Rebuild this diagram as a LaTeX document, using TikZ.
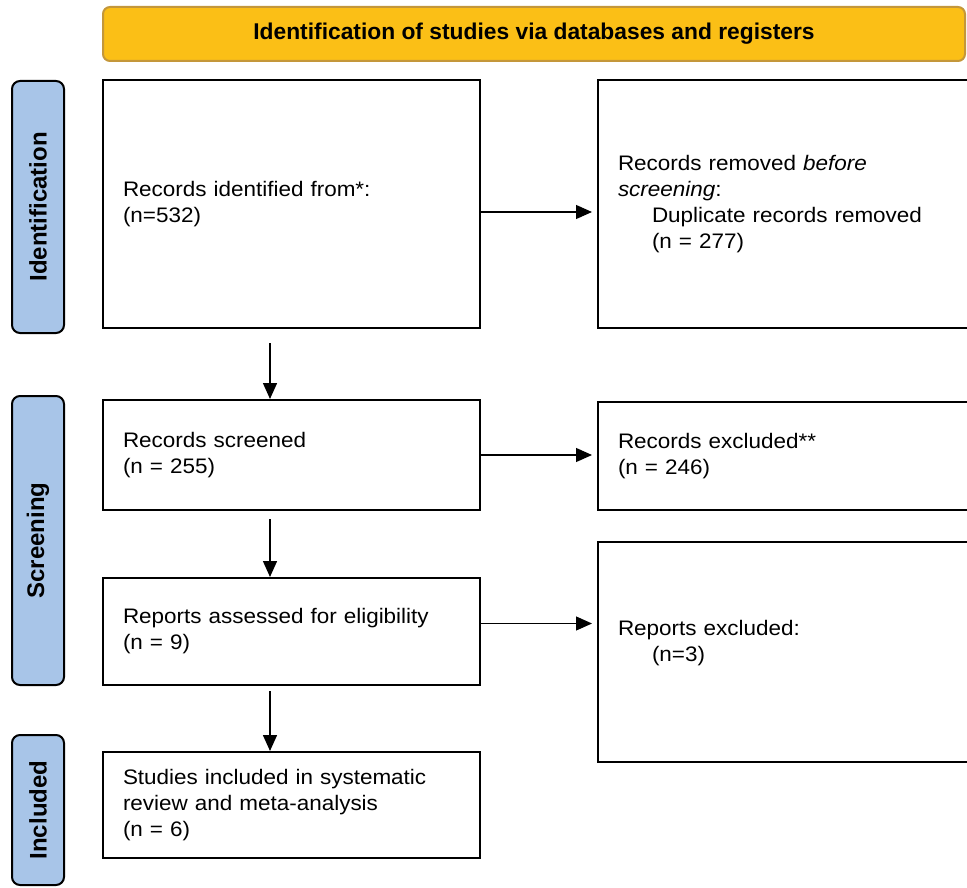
\documentclass[tikz,border=0pt]{standalone}
\usepackage{fontspec}
\setmainfont{Liberation Sans}[FakeStretch=1.07]
\newfontfamily\labfont{Liberation Sans}
\usetikzlibrary{arrows.meta}
\definecolor{gold}{HTML}{FBBF16}
\definecolor{goldline}{HTML}{C4973A}
\definecolor{phase}{HTML}{A8C5E8}
\begin{document}
\begin{tikzpicture}[x=1pt,y=-1pt,
  box/.style={draw=black, line width=2pt, inner xsep=20pt, inner ysep=0pt,
    align=left, font=\fontsize{21}{26}\selectfont},
  phaselab/.style={draw=black, line width=2pt, fill=phase, rounded corners=8pt,
    minimum height=52pt, rotate=90, inner sep=0pt,
    font=\labfont\bfseries\fontsize{24}{28}\selectfont},
  arr/.style={line width=1.5pt, -{Triangle[length=16pt,width=14pt]}},
  harr/.style={line width=1.2pt, -{Triangle[length=16pt,width=14pt]}, shorten >=5pt}]
\useasboundingbox (0,0) rectangle (967,888);
\clip (0,0) rectangle (967,888);
\node[draw=goldline, fill=gold, line width=2pt, rounded corners=7pt,
  minimum width=862pt, minimum height=54pt, inner sep=0pt,
  font=\labfont\bfseries\fontsize{22.8}{26}\selectfont] (banner) at (534,34)
  {Identification of studies via databases and registers};
\node[phaselab, minimum width=252pt] (idlab) at (38,207) {Identification};
\node[phaselab, minimum width=289pt] (scrlab) at (38,540.5) {Screening};
\node[phaselab, minimum width=150pt] (inclab) at (38,810) {Included};
\node[box, minimum width=377pt, minimum height=248pt, text width=337pt] (ident) at (291.5,204)
  {Records identified from*:\\(n=532)};
\node[box, minimum width=400pt, minimum height=248pt, text width=360pt] (removed) at (798,204)
  {Records removed \textit{before}\\\textit{screening}:\\\hspace*{34pt}Duplicate records removed\\\hspace*{34pt}(n = 277)};
\node[box, minimum width=377pt, minimum height=110pt, text width=337pt] (screened) at (291.5,455)
  {Records screened\\(n = 255)};
\node[box, minimum width=400pt, minimum height=108pt, text width=360pt] (excluded) at (798,456)
  {Records excluded**\\(n = 246)};
\node[box, minimum width=377pt, minimum height=107pt, text width=337pt] (assessed) at (291.5,631.5)
  {Reports assessed for eligibility\\(n = 9)};
\node[box, minimum width=400pt, minimum height=220pt, text width=360pt] (repexcl) at (798,652)
  {Reports excluded:\\\hspace*{34pt}(n=3)\\[-4pt]\mbox{}};
\node[box, minimum width=377pt, minimum height=106pt, text width=337pt] (included) at (291.5,805)
  {Studies included in systematic\\review and meta-analysis\\(n = 6)};
\draw[arr] ([xshift=-21.5pt,yshift=-14pt]ident.south) -- ([xshift=-21.5pt]screened.north);
\draw[arr] ([xshift=-21.5pt,yshift=-8pt]screened.south) -- ([xshift=-21.5pt]assessed.north);
\draw[arr] ([xshift=-21.5pt,yshift=-5pt]assessed.south) -- ([xshift=-21.5pt]included.north);
\draw[harr] ([yshift=-8pt]ident.east) -- ([yshift=-8pt]removed.west);
\draw[harr] (screened.east) -- (screened.east -| excluded.west);
\draw[harr] ([yshift=8pt]assessed.east) -- ([yshift=8pt]assessed.east -| repexcl.west);
\end{tikzpicture}
\end{document}
